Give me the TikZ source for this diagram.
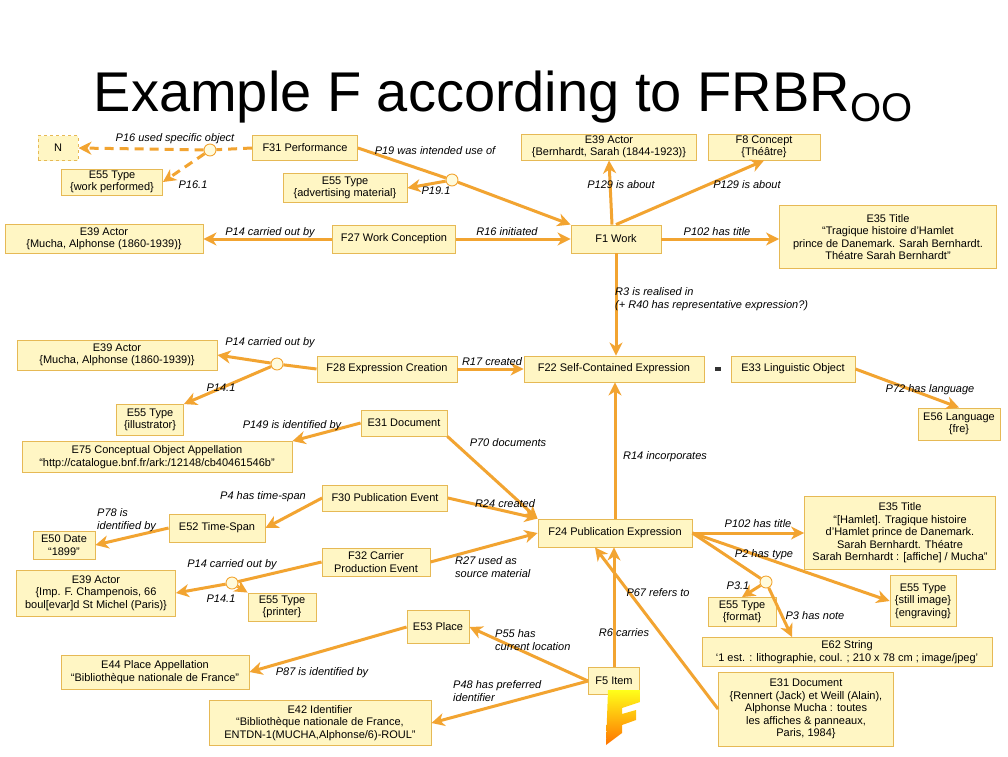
\documentclass[tikz,border=0pt]{standalone}
\usepackage{fontspec}
\setmainfont{Liberation Sans}
\usetikzlibrary{arrows.meta}
\definecolor{lnc}{HTML}{F2A431}
\definecolor{bxf}{HTML}{FFF6C4}
\definecolor{bxd}{HTML}{E6B955}
\definecolor{dotf}{HTML}{FFFBDC}
\begin{document}
\begin{tikzpicture}[x=1pt,y=-1pt,
  bx/.style={draw=bxd,fill=bxf,line width=0.9pt,align=center,inner sep=1pt,font=\fontsize{11}{12.5}\selectfont},
  dt/.style={circle,draw=lnc,fill=dotf,line width=0.9pt,minimum size=12pt,inner sep=0pt},
  lb/.style={font=\fontsize{11}{13}\selectfont\itshape,inner sep=0pt},
  ln/.style={draw=lnc,line width=3pt},
  ar/.style={ln,-{Stealth[length=13pt,width=13pt,inset=4pt]}},
  dar/.style={ar,dash pattern=on 9pt off 6pt},
  dln/.style={ln,dash pattern=on 9pt off 6pt}]
\useasboundingbox (0,0) rectangle (1008,756);
\fill[white] (0,0) rectangle (1008,756);
\node[font=\fontsize{56}{60}\selectfont,inner sep=0pt] (title) at (503,97) {Example F according to FRBR\raisebox{-0.35ex}{\fontsize{40}{44}\selectfont OO}};
\newcommand\bx[6]{\node[bx,minimum width=#4pt,minimum height=#5pt] (#1) at (#2,#3) {#6};}
\node[bx,dashed,minimum width=40pt,minimum height=25pt] (N) at (58,148) {N};
\bx{F31}{305}{148}{105}{25}{F31 Performance}
\bx{Ewp}{112}{182}{101}{26}{E55 Type\\\{work performed\}}
\bx{Eadv}{345}{188}{124}{29}{E55 Type\\\{advertising material\}}
\bx{Ebern}{609}{147}{175}{26}{E39 Actor\\\{Bernhardt, Sarah (1844-1923)\}}
\bx{F8}{764}{147}{112}{26}{F8 Concept\\\{Théâtre\}}
\bx{Emu}{104}{239}{198}{29}{E39 Actor\\\{Mucha, Alphonse (1860-1939)\}}
\bx{F27}{394}{239}{123}{28}{F27 Work Conception}
\bx{F1}{616}{239}{90}{28}{F1 Work}
\bx{Tit}{888}{237}{217}{63}{E35 Title\\``Tragique histoire d'Hamlet\\prince de Danemark. Sarah Bernhardt.\\Théatre Sarah Bernhardt''}
\bx{Emu2}{117}{355}{200}{30}{E39 Actor\\\{Mucha, Alphonse (1860-1939)\}}
\bx{F28}{387}{369}{140}{26}{F28 Expression Creation}
\bx{F22}{614}{369}{180}{26}{F22 Self-Contained Expression}
\bx{E33}{793}{369}{124}{26}{E33 Linguistic Object}
\node[fill=black!80,minimum width=6pt,minimum height=4pt,inner sep=0pt] (eq) at (718,369) {};
\bx{Eill}{150}{420}{67}{31}{E55 Type\\\{illustrator\}}
\bx{E31}{404}{423}{86}{26}{E31 Document}
\bx{E75}{157}{457}{270}{31}{E75 Conceptual Object Appellation\\``http://catalogue.bnf.fr/ark:/12148/cb40461546b''}
\bx{E56}{959}{424}{82}{32}{E56 Language\\\{fre\}}
\bx{F30}{385}{498}{125}{26}{F30 Publication Event}
\bx{E52}{217}{528}{96}{28}{E52 Time-Span}
\bx{E50}{64}{545}{62}{28}{E50 Date\\``1899''}
\bx{F24}{615}{533}{154}{28}{F24 Publication Expression}
\bx{Tit2}{900}{533}{191}{73}{E35 Title\\``[Hamlet]. Tragique histoire\\d'Hamlet prince de Danemark.\\Sarah Bernhardt. Théatre\\Sarah Bernhardt : [affiche] / Mucha''}
\bx{F32}{376}{562}{108}{28}{F32 Carrier\\Production Event}
\bx{Eimp}{96}{593}{159}{46}{E39 Actor\\\{Imp. F. Champenois, 66\\boul[evar]d St Michel (Paris)\}}
\bx{Epr}{282}{607}{68}{28}{E55 Type\\\{printer\}}
\bx{Efo}{742}{612}{68}{29}{E55 Type\\\{format\}}
\bx{Est}{923}{601}{66}{51}{E55 Type\\\{still image\}\\\{engraving\}}
\bx{E53}{438}{627}{62}{33}{E53 Place}
\bx{E62}{847}{652}{290}{29}{E62 String\\`1 est. : lithographie, coul. ; 210 x 78 cm ; image/jpeg'}
\bx{E44}{155}{672}{188}{34}{E44 Place Appellation\\``Bibliothèque nationale de France''}
\bx{F5}{614}{681}{51}{27}{F5 Item}
\bx{E31b}{806}{709}{175}{74}{E31 Document\\\{Rennert (Jack) et Weill (Alain),\\Alphonse Mucha : toutes\\les affiches \& panneaux,\\Paris, 1984\}}
\bx{E42}{320}{723}{222}{45}{E42 Identifier\\``Bibliothèque nationale de France,\\ENTDN-1(MUCHA,Alphonse/6)-ROUL''}
% dots
\node[dt] (d1) at (210,150) {};
\node[dt] (d2) at (452,180) {};
\node[dt] (d3) at (277,364) {};
\node[dt] (d4) at (232,583) {};
\node[dt] (d5) at (766,582) {};
% F logo
\shade[top color=yellow!90!white,bottom color=orange!90!red] (608,690) -- (640,690) -- (640,702) -- (622,708) -- (622,714) -- (636,710) -- (636,720) -- (622,725) -- (622,733) -- (606,745) -- cycle;
% edges
\draw[dln] (F31.west) -- (d1);
\draw[dar] (d1) -- (N.east);
\draw[dar] (d1) -- (Ewp.east);
\draw[ln] (F31.east) -- (d2);
\draw[ar] (d2) -- (F1.north west);
\draw[ar] (d2) -- (Eadv.east);
\draw[ar] ([xshift=-4pt]F1.north) -- (Ebern.south);
\draw[ar] (F1.north) -- (F8.south);
\draw[ar] (F27) -- (Emu);
\draw[ar] (F27) -- (F1);
\draw[ar] (F1) -- (Tit.west |- F1);
\draw[ar] (F1.south) -- (F1.south |- F22.north);
\draw[ln] (F28.west) -- (d3);
\draw[ar] (d3) -- (Emu2.east);
\draw[ar] (d3) -- (Eill.north east);
\draw[ar] (F28) -- (F22);
\draw[ar] (E33.east) -- (E56.north);
\draw[ar] (E31.west) -- (E75.north east);
\draw[ar] (E31.south east) -- (F24.north west);
\draw[ar] (F24.north) -- (F24.north |- F22.south);
\draw[ar] (F30.west) -- (E52.east);
\draw[ar] (E52.west) -- (E50.east);
\draw[ar] (F30.east) -- (F24.north west);
\draw[ln] (F32.west) -- (d4);
\draw[ar] (d4) -- (Eimp.east);
\draw[ar] (d4) -- (Epr.north west);
\draw[ar] (F32.east) -- (F24.west);
\draw[ar] (F24.east) -- (Tit2.west |- F24.east);
\draw[ar] (F24.east) -- (Est.west);
\draw[ln] (F24.east) -- (d5);
\draw[ar] (d5) -- (Efo.north);
\draw[ar] (d5) -- ([xshift=-55pt]E62.north);
\draw[ar] (F5.north) -- (F5.north |- F24.south);
\draw[ar] (E31b.west) -- ([xshift=-20pt]F24.south);
\draw[ar] (F5.west) -- (E53.east);
\draw[ar] (F5.west) -- (E42.east);
\draw[ar] (E53.west) -- (E44.east);
% labels
\node[lb] (l1) at (175,139) {P16 used specific object};
\node[lb] (l2) at (193,185) {P16.1};
\node[lb] (l3) at (435,151) {P19 was intended use of};
\node[lb] (l4) at (436,191) {P19.1};
\node[lb] (l5) at (621,185) {P129 is about};
\node[lb] (l6) at (747,185) {P129 is about};
\node[lb] (l7) at (270,233) {P14 carried out by};
\node[lb] (l8) at (507,232) {R16 initiated};
\node[lb] (l9) at (717,232) {P102 has title};
\node[lb,anchor=west,align=left] (l10) at (615,299) {R3 is realised in\\(+ R40 has representative expression?)};
\node[lb] (l11) at (270,343) {P14 carried out by};
\node[lb] (l12) at (221,388) {P14.1};
\node[lb] (l13) at (492,362) {R17 created};
\node[lb] (l14) at (930,390) {P72 has language};
\node[lb] (l15) at (292,426) {P149 is identified by};
\node[lb] (l16) at (508,443) {P70 documents};
\node[lb] (l17) at (665,457) {R14 incorporates};
\node[lb] (l18) at (263,497) {P4 has time-span};
\node[lb,anchor=west,align=left] (l19) at (97,520) {P78 is\\identified by};
\node[lb] (l20) at (505,504) {R24 created};
\node[lb] (l21) at (232,565) {P14 carried out by};
\node[lb] (l22) at (221,599) {P14.1};
\node[lb,anchor=west,align=left] (l23) at (455,567) {R27 used as\\source material};
\node[lb] (l24) at (758,524) {P102 has title};
\node[lb] (l25) at (764,555) {P2 has type};
\node[lb] (l26) at (738,586) {P3.1};
\node[lb] (l27) at (815,616) {P3 has note};
\node[lb] (l28) at (658,593) {P67 refers to};
\node[lb] (l29) at (624,633) {R6 carries};
\node[lb,anchor=west,align=left] (l30) at (495,640) {P55 has\\current location};
\node[lb] (l31) at (322,673) {P87 is identified by};
\node[lb,anchor=west,align=left] (l32) at (453,691) {P48 has preferred\\identifier};
\end{tikzpicture}
\end{document}
